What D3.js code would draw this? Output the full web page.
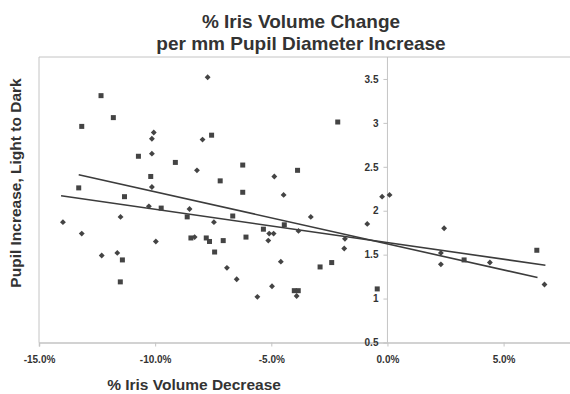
<!DOCTYPE html>
<html>
<head>
<meta charset="utf-8">
<script src="https://cdn.jsdelivr.net/npm/d3@7"></script>
<style>
  body { margin: 0; background: #fff; }
  svg { display: block; font-family: "Liberation Sans", Arial, sans-serif; }
</style>
</head>
<body>
<svg id="chart" width="570" height="394"></svg>
<script>
// squares series (% iris volume change, pupil increase mm)
const squareX = [-12.33, -11.80, -13.16, -7.57, -10.72, -9.13, -10.19, -7.20, -6.23, -13.29, -11.32, -6.23,
  -9.74, -8.62, -6.66, -8.46, -7.80, -7.66, -7.07, -7.44, -11.41, -11.50, -2.14, -3.87, -6.09, -5.34,
  -4.44, -4.01, -3.84, -2.90, -2.40, -0.44, 3.30, 6.43]
const squareY = [3.31, 3.06, 2.96, 2.86, 2.62, 2.55, 2.39, 2.34, 2.52, 2.26, 2.16, 2.21,
  2.03, 1.93, 1.94, 1.69, 1.69, 1.65, 1.66, 1.53, 1.44, 1.19, 3.01, 2.46, 1.70, 1.79,
  1.84, 1.09, 1.09, 1.36, 1.41, 1.11, 1.44, 1.55]

// diamonds series
const diamondX = [-7.74, -10.06, -10.14, -7.96, -10.14, -8.20, -10.14, -10.27, -8.52, -11.49, -13.97, -13.16,
  -7.47, -9.97, -8.30, -12.30, -11.63, -6.91, -6.49, -4.87, -4.47, -0.23, 0.09, -3.30, -5.09, -4.90,
  -5.13, -3.83, -4.59, -4.97, -5.60, -3.91, -1.86, -1.83, -0.87, 2.44, 2.30, 2.30, 4.41, 6.76]
const diamondY = [3.52, 2.89, 2.82, 2.81, 2.65, 2.46, 2.27, 2.05, 2.02, 1.93, 1.87, 1.74,
  1.87, 1.65, 1.70, 1.49, 1.52, 1.35, 1.22, 2.39, 2.18, 2.16, 2.18, 1.93, 1.74, 1.74,
  1.66, 1.77, 1.42, 1.14, 1.02, 1.03, 1.57, 1.68, 1.85, 1.80, 1.52, 1.39, 1.41, 1.16]

// linear trendlines: [x, y] at both ends
const squareTrend = [[-13.29, 2.41], [6.46, 1.24]]
const diamondTrend = [[-14.05, 2.17], [6.80, 1.38]]

const xTicks = [-15, -10, -5, 0, 5]
const yTicks = [0.5, 1, 1.5, 2, 2.5, 3, 3.5]

const titleLines = ['% Iris Volume Change', 'per mm Pupil Diameter Increase']
const xTitle = '% Iris Volume Decrease'
const yTitle = 'Pupil Increase, Light to Dark'

const svg = d3.select('#chart')
const plotLeft = 39, plotTop = 57, plotBottom = 342.5

const x = d3.scaleLinear().domain([-15, 10]).range([plotLeft, plotLeft + 25 * 23.23])
const y = d3.scaleLinear().domain([0.5, 3.75]).range([plotBottom, plotTop])

const ink = '#333'
const frame = '#c4c4c4'
const fontFamily = '"Liberation Sans", Arial, sans-serif'

// plot frame (left and top edges only, the right runs off the picture)
svg.append('line').attr('x1', plotLeft).attr('x2', plotLeft).attr('y1', plotTop).attr('y2', plotBottom)
  .attr('stroke', frame)
svg.append('line').attr('x1', plotLeft).attr('x2', 570).attr('y1', plotTop).attr('y2', plotTop)
  .attr('stroke', frame)

// x axis along y = 0.5
const xAxis = svg.append('g')
  .attr('transform', `translate(0,${y(0.5)})`)
  .call(d3.axisBottom(x).tickValues(xTicks).tickSize(4).tickPadding(9)
    .tickFormat(d => d.toFixed(1) + '%'))
xAxis.select('.domain').attr('stroke', frame).attr('stroke-width', 1.5)
xAxis.selectAll('.tick line').attr('stroke', frame)
xAxis.selectAll('text').attr('fill', ink).attr('font-size', 10).attr('font-weight', 'bold')
  .attr('font-family', fontFamily)

// y axis crossing at x = 0
const yAxis = svg.append('g')
  .attr('transform', `translate(${x(0)},0)`)
  .call(d3.axisLeft(y).tickValues(yTicks).tickSize(4).tickPadding(5)
    .tickFormat(d3.format('')))
yAxis.select('.domain').attr('stroke', frame).attr('d', `M0,${plotTop}V${plotBottom}`)
yAxis.selectAll('.tick line').attr('stroke', frame)
yAxis.selectAll('text').attr('fill', ink).attr('font-size', 10).attr('font-weight', 'bold')
  .attr('font-family', fontFamily)

// trendlines
const line = d3.line().x(d => x(d[0])).y(d => y(d[1]))
;[squareTrend, diamondTrend].forEach(t => {
  svg.append('path').attr('d', line(t)).attr('fill', 'none')
    .attr('stroke', '#3c3c3c').attr('stroke-width', 1.6)
})

// markers
const squares = d3.zip(squareX, squareY)
const diamonds = d3.zip(diamondX, diamondY)

svg.append('g').selectAll('rect')
  .data(squares)
  .enter()
  .append('rect')
  .attr('x', d => x(d[0]) - 2.5)
  .attr('y', d => y(d[1]) - 2.5)
  .attr('width', 5)
  .attr('height', 5)
  .attr('fill', '#444')

svg.append('g').selectAll('path')
  .data(diamonds)
  .enter()
  .append('path')
  .attr('transform', d => `translate(${x(d[0])},${y(d[1])})`)
  .attr('d', d3.symbol(d3.symbolDiamond2, 22))
  .attr('fill', '#444')

// titles
const title = svg.append('text').attr('x', 301).attr('text-anchor', 'middle')
  .attr('font-size', 19).attr('font-weight', 'bold').attr('fill', ink)
title.selectAll('tspan').data(titleLines).enter().append('tspan')
  .attr('x', 301).attr('y', (d, i) => 28 + i * 22).text(d => d)

svg.append('text').attr('x', 194).attr('y', 390).attr('text-anchor', 'middle')
  .attr('font-size', 15.5).attr('font-weight', 'bold').attr('fill', ink).text(xTitle)

svg.append('text').attr('transform', 'translate(21,183) rotate(-90)').attr('text-anchor', 'middle')
  .attr('font-size', 15.5).attr('font-weight', 'bold').attr('fill', ink).text(yTitle)
</script>
</body>
</html>
